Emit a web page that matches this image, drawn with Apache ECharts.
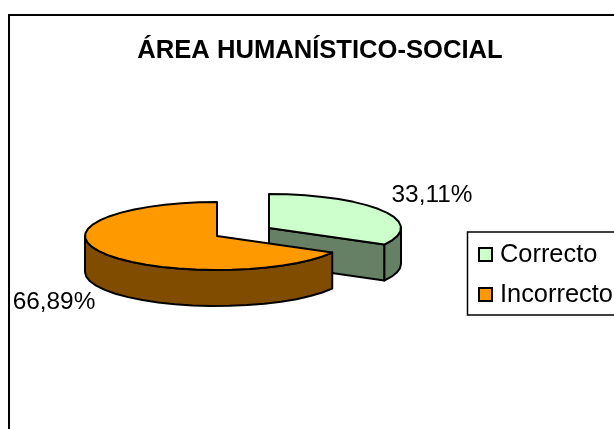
<!DOCTYPE html>
<html><head><meta charset="utf-8">
<style>html,body{margin:0;padding:0;background:#fff}#c{width:614px;height:429px}</style>
<script src="https://cdn.jsdelivr.net/npm/echarts@6/dist/echarts.min.js"></script>
</head><body><div id="c"></div>
<script>
var categories = ['Correcto', 'Incorrecto'];
var shares = [33.11, 66.89];
var titleText = 'ÁREA HUMANÍSTICO-SOCIAL';

var FONT = '"Liberation Sans", Arial, sans-serif';
var RX = 132, RY = 34, DEPTH = 36;
var sliceStyle = [
  {cx: 269, cy: 228, top: '#CCFFCC', wall: '#668066', lx: 432, ly: 195},
  {cx: 217, cy: 236, top: '#FF9900', wall: '#804D00', lx: 54, ly: 302}
];
var total = shares.reduce(function (a, b) { return a + b; }, 0);
var fmt = function (v) { return v.toFixed(2).replace('.', ',') + '%'; };

function arcPts(s, a0, a1, dy) {
  var n = Math.max(2, Math.ceil(Math.abs(a1 - a0) / 0.14)), pts = [];
  for (var i = 0; i <= n; i++) {
    var a = a0 + (a1 - a0) * i / n;
    pts.push([s.cx + RX * Math.sin(a), s.cy - RY * Math.cos(a) + dy]);
  }
  return pts;
}
function makeRender(idx) {
  return function (params, api) {
    var s = sliceStyle[idx];
    var prior = 0;
    for (var i = 0; i < idx; i++) prior += shares[i];
    var a0 = prior / total * 2 * Math.PI;
    var a1 = (prior + api.value(0)) / total * 2 * Math.PI;
    var line = {stroke: '#000', lineWidth: 2, lineJoin: 'round'};
    var children = [];
    var w0 = Math.max(a0, Math.PI / 2), w1 = Math.min(a1, 3 * Math.PI / 2);
    if (w1 > w0) {
      children.push({type: 'polygon',
        shape: {points: arcPts(s, w0, w1, 0).concat(arcPts(s, w1, w0, DEPTH))},
        style: Object.assign({fill: s.wall}, line)});
    }
    if (a1 < Math.PI) {
      var tip = arcPts(s, a1, a1, 0)[0];
      children.push({type: 'polygon',
        shape: {points: [[s.cx, s.cy], tip, [tip[0], tip[1] + DEPTH], [s.cx, s.cy + DEPTH]]},
        style: Object.assign({fill: s.wall}, line)});
    }
    children.push({type: 'polygon',
      shape: {points: [[s.cx, s.cy]].concat(arcPts(s, a0, a1, 0))},
      style: Object.assign({fill: s.top}, line)});
    children.push({type: 'text', style: {
      x: s.lx, y: s.ly, text: fmt(api.value(0)), fill: '#000',
      font: '24.4px ' + FONT, align: 'center', verticalAlign: 'middle'}});
    return {type: 'group', children: children};
  };
}
var chart = echarts.init(document.getElementById('c'), null, {renderer: 'canvas'});
chart.setOption({
  animation: false,
  backgroundColor: '#fff',
  title: {text: titleText, left: 320, top: 38, textAlign: 'center', padding: 0,
    textStyle: {fontFamily: FONT, fontWeight: 'bold', fontSize: 25.6, color: '#000'}},
  graphic: [
    {type: 'rect', z: -1, shape: {x: 9, y: 15, width: 640, height: 450},
      style: {fill: 'none', stroke: '#000', lineWidth: 2}},
    {type: 'rect', z: -1, shape: {x: 467.5, y: 232, width: 180, height: 83},
      style: {fill: '#fff', stroke: '#000', lineWidth: 1.5}}
  ],
  legend: {
    data: categories, orient: 'vertical', left: 478, top: 242, padding: 0,
    width: 160, itemWidth: 13, itemHeight: 13, itemGap: 15, icon: 'rect',
    textStyle: {fontFamily: FONT, fontSize: 25.4, color: '#000', padding: [0, 0, 8, 3]},
    itemStyle: {borderColor: '#000', borderWidth: 2}
  },
  series: categories.map(function (name, i) {
    return {
      type: 'custom', name: name, coordinateSystem: 'none', silent: true,
      itemStyle: {color: sliceStyle[i].top},
      renderItem: makeRender(i),
      data: [[shares[i]]]
    };
  })
});
</script></body></html>
